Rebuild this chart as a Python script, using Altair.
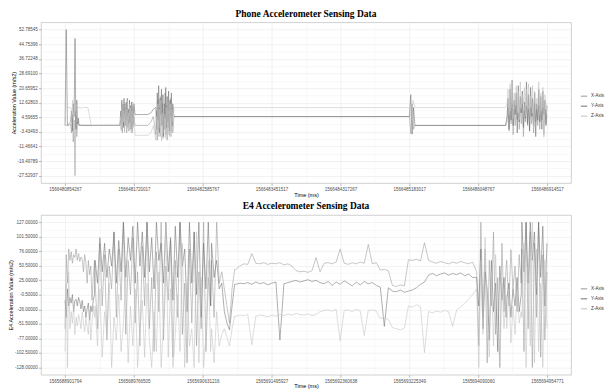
import altair as alt
import pandas as pd

AXES = ["X-Axis", "Y-Axis", "Z-Axis"]
COLORS = ["#999999", "#6e6e6e", "#c0c0c0"]

# ---- tick labels ----
PHONE_X_TICKS = [1566480854267, 1566481720017, 1566482585767, 1566483451517,
                 1566484317267, 1566485183017, 1566486048767, 1566486914517]
PHONE_Y_TICKS = [-27.52937, -19.49789, -11.46641, -3.43493, 4.59655, 12.62803,
                 20.65952, 28.69100, 36.72248, 44.75396, 52.78545]
E4_X_TICKS = [1565688901794, 1565689766505, 1565690631216, 1565691495927,
              1565692360638, 1565693225349, 1565694090060, 1565694954771]
E4_Y_TICKS = [-128.0, -102.5, -77.0, -51.5, -26.0, -0.5, 25.0, 50.5, 76.0, 101.5, 127.0]

# ---- phone series: (start s, end s, samples) ----
PHONE_X = [
    (0, 60, [0.2, 0.1, 0.3]),
    (70, 170, [1, -4, 6, -9, 3, -27.52937, 8, -6, 2, 0.5]),
    (175, 690, [0.2, 0.1, 0.2, 0.1]),
    (700, 866, [3, -2, 9, -4, 11, 0, 7, -3, 12, 1, 8, -4, 10, -1, 6, -3, 12, 2, 9, -2, 7, -4, 11, 0, 5]),
    (880, 1041, [0.1, 0.1]),
    (1080, 1110, [2, 5]),
    (1142, 1355, [-5, 8, -8, 14, -3, 10, -6, 16, 0, 12, -7, 9, -2, 18, -5, 11, -8, 13, -1, 7, -6, 15, -3, 10, -4]),
    (1370, 4320, [5.0, 5.0]),
    (4330, 4400, [5, -4.5, 12, -2, 0.1]),
    (4420, 5540, [0.1, 0.1]),
    (5558, 6060.25, [2, 10, -3, 8, 1, 12, -5, 9, 0, 11, 3, 7, -2, 10, 1, 12, -6, 8, 2, 11,
                     0, 9, -3, 10, 1, 7, -4, 12, 2, 9, 0, 11, -2, 8, 3, 10, -5, 9, 1, 6]),
]
PHONE_Y = [
    (0, 30, [0.1, 52.78545, 0.1]),
    (70, 170, [2, 8, -3, 12, 5, 47.9, -2, 14, 1, 4]),
    (175, 690, [0.2, 0.1, 0.2]),
    (700, 866, [8, 2, 14, 4, 12, -1, 15, 6, 10, 0, 13, 3, 15, 5, 9, 1, 14, 2, 11, -2, 13, 4, 10, 1, 12]),
    (880, 1041, [6.1, 6.1]),
    (1080, 1110, [7, 9]),
    (1142, 1355, [10, -2, 18, 3, 22, -4, 15, 6, 20, 0, 17, -6, 12, 4, 21, -1, 16, 2, 19, -3, 14, 5, 18, 0, 12]),
    (1370, 4320, [5.0, 5.0]),
    (4330, 4400, [5, 17, -4.7, 10, 0.1]),
    (4420, 5540, [0.1, 0.1]),
    (5558, 6060.25, [5, 15, -2, 20, 3, 25, 0, 14, 6, 18, -4, 22, 2, 16, 7, 19, -1, 13, 4, 24,
                     1, 17, -3, 21, 5, 15, 0, 18, -6, 12, 3, 20, 2, 16, -2, 19, 6, 14, 0, 11]),
]
PHONE_Z = [
    (0, 70, [9.9, 9.9]),
    (75, 170, [9.9, 4, 14, 2, 16, 9, 12, 5, 9.9, 10]),
    (175, 289, [9.9, 9.6, 10.1, 9.8]),
    (330, 690, [0.2, 0.2]),
    (700, 866, [5, -3, 10, -1, 13, 2, 8, -4, 11, 0, 9, -2, 14, 3, 7, -3, 12, 1, 10, -4, 8, 2, 13, -1, 6]),
    (880, 1041, [-5.3, -5.3]),
    (1080, 1110, [-4, 0]),
    (1142, 1355, [-8, 5, -3, 12, -6, 9, -1, 14, -8.5, 7, -4, 11, -2, 6, -7, 10, 0, 13, -5, 8, -3, 12, -6, 9, 2]),
    (1370, 4320, [9.9, 9.9]),
    (4330, 4400, [9.9, 3, 14, 9.9]),
    (4492, 5540, [9.9, 9.9]),
    (5558, 6060.25, [12, 20, 6, 23, 10, 25, 4, 18, 11, 22, 8, 19, 3, 24, 9, 17, 12, 21, 5, 20,
                     10, 23, 7, 16, 13, 22, -2, 19, 8, 15, 11, 24, 6, 18, 9, 21, -6.4, 17, 12, 10]),
]

# ---- E4 series: (start s, end s, samples) ----
E4_X = [
    (0, 370, [-60, 70, 20, 80, 60, 75, 55, 70, 65, 80, 60, 72, 58, 66, 62, 40, 70, 55, 20, 60, 35, 50, -10, 30, 60]),
    (378, 1829, [20, -60, 90, -20, 70, -80, 50, 10, 110, -40, 80, -10, 127, -70, 60, 0, 100, -50, 40, -90,
                 85, -20, 127, -60, 30, -100, 75, -30, 127, -80, 50, -10, 95, -110, 60, -40, 127, -70, 20, -120,
                 80, -50, 110, -90, 40, -60, 127, -100, 30, -20]),
    (1840, 2130, [60, -40, 127, 20, 40, 10, -20, -50, 10, 44]),
    (2144, 5120, [44, 50, 54, 53, 72, 55, 54, 56, 53, 55, 54, 56, 52, 54, 50, 42, 40, 41, 39, 42,
                  65, 40, 55, 56, 54, 57, 80, 55, 53, 56, 54, 57, 55, 88, 54, 56, 43, 44, 42, 16,
                  14, 17, 15, 61, 60, 62, 59, 91, 60, 57, 55, 58, 56, 54, 57, 55, 58, 56, 54, 57]),
    (5170, 5540, [40, -90, 127, -40, 80, -120, 60, -20, 110, -70, 30, -128, 90, -30, 50]),
    (5548, 5730, [60, -20, 79, 10, 50, -30, 70, 20]),
    (5738, 6052.977, [80, -100, 127, -60, 110, -128, 90, -40, 127, -110, 70, -80, 40]),
]
E4_Y = [
    (0, 370, [-10, -40, 10, -20, -5, -15, 0, -30, -10, -8, -20, -5, -12, -25, -10, -30, -20, -40, -25, -15, -45, -20, -30, -10, 0]),
    (378, 1829, [60, 20, 100, 40, 90, 30, 80, 50, 110, 20, 95, 40, 127, 30, 100, 60, 120, 20, 127, 50,
                 110, 30, 127, 40, 100, 10, 127, 60, 90, 20, 127, 40, 100, -10, 120, 30, 127, 50, 80, -30,
                 127, 20, 110, 0, 127, -40, 90, 10, 127, -20]),
    (1840, 2130, [90, 30, 60, 10, 20, -30, -50, -62, -20, 18]),
    (2144, 5120, [18, 20, 19, 21, 18, 22, 19, 21, 17, 20, 22, -80, 19, 21, 23, 25, 22, 24, 26, 23,
                  25, 21, 19, 23, 16, 22, 18, 24, 20, 15, 22, 17, 23, 19, 21, 16, 13, -56, 12, 6,
                  5, 8, 4, 6, 8, 12, 18, 22, 34, 37, 33, 36, 38, 34, 37, 35, 38, 33, 36, 30]),
    (5170, 5540, [30, -20, 80, -60, 40, 10, -80, 60, -30, 20, -100, 50, -10, 30, -40]),
    (5548, 5730, [-10, 20, -40, 10, -20, 30, -30, 0]),
    (5738, 6052.977, [127, 40, 127, 20, 127, 60, 110, 0, 127, 30, 120, -20, 90]),
]
E4_Z = [
    (0, 370, [-100, 20, -128, 40, -60, -30, -50, -20, -70, -40, -55, -35, -45, -60, -30, -50, -65, -40, -56, -70, -30, -80, -50, -20, -40]),
    (378, 1829, [-20, -90, 10, -110, -30, -70, 20, -128, -40, -80, 0, -100, -50, 30, -120, -20, -90, 10, -128, -60,
                 -10, -110, 20, -80, -128, -30, -100, 40, -128, -50, 127, -110, 10, -128, -70, 0, -100, 90, -128, 20,
                 -90, -60, -128, 110, -120, 30, -128, -70, 60, -100]),
    (1840, 2130, [-60, -120, -30, -90, -70, -60, -75, -90, -60, -38]),
    (2144, 5120, [-38, -36, -37, -35, -88, -38, -36, -37, -39, -36, -38, -35, -37, -34, -36, -33, -35, -36, -34, -37,
                  -35, -30, -28, -27, -29, -26, -81, -28, -27, -30, -26, -29, -72, -28, -27, -29, -42, -41, -44, -58,
                  -60, -62, -59, -20, -22, -18, -21, -102, -30, -32, -29, -31, -28, -30, -56, -27, -22, -15, -8, 0]),
    (5170, 5540, [10, -128, 60, -70, 100, -30, -110, 40, -90, 70, -50, -128, 20, -60, 0]),
    (5548, 5730, [-60, 10, -85, -20, -70, 5, -50, -30]),
    (5738, 6052.977, [-40, 90, -128, 50, -90, 127, -120, 80, -100, 20, -128, 60, -60]),
]


def build(series, t0):
    rows = []
    for axis, segs in zip(AXES, series):
        for a, b, vals in segs:
            n = len(vals)
            for i, v in enumerate(vals):
                t = a if n == 1 else a + (b - a) * i / (n - 1)
                rows.append({"time": t0 + t * 1000.0, "value": v, "axis": axis})
    return pd.DataFrame(rows)


def with_minors(ticks):
    mids = [(ticks[i] + ticks[i + 1]) / 2 for i in range(len(ticks) - 1)]
    return sorted(list(ticks) + mids)


def major_test(ticks):
    return "indexof([" + ",".join(repr(t) for t in ticks) + "], datum.value) >= 0"


def expanded(ticks):
    r = ticks[-1] - ticks[0]
    return [ticks[0] - 0.05 * r, ticks[-1] + 0.05 * r]


def panel(df, xt, yt, title, ytitle, height):
    xtest = major_test(xt)
    ytest = major_test(yt)
    xaxis = alt.Axis(
        values=with_minors(xt),
        labelExpr=f"({xtest}) ? format(datum.value, 'd') : ''",
        gridColor={"condition": {"test": xtest, "value": "#e4e4e4"}, "value": "#f1f1f1"},
        tickOpacity={"condition": {"test": xtest, "value": 1}, "value": 0},
        title="Time (ms)",
        labelFlush=False,
    )
    yaxis = alt.Axis(
        values=with_minors(yt),
        labelExpr=f"({ytest}) ? replace(format(datum.value, '.5f'), '\u2212', '-') : ''",
        gridColor={"condition": {"test": ytest, "value": "#e4e4e4"}, "value": "#f1f1f1"},
        tickOpacity={"condition": {"test": ytest, "value": 1}, "value": 0},
        title=ytitle,
    )
    return alt.Chart(df).mark_line(strokeWidth=0.55).encode(
        x=alt.X("time:Q", scale=alt.Scale(domain=expanded(xt), nice=False, zero=False), axis=xaxis),
        y=alt.Y("value:Q", scale=alt.Scale(domain=expanded(yt), nice=False, zero=False), axis=yaxis),
        color=alt.Color(
            "axis:N",
            scale=alt.Scale(domain=AXES, range=COLORS),
            legend=alt.Legend(
                title=None, orient="none", legendX=540, legendY=70,
                symbolType="stroke", symbolSize=40, symbolStrokeWidth=1,
                labelFontSize=4.5, labelFont="Liberation Sans", labelColor="#333333",
                rowPadding=4, labelOffset=3, padding=0,
            ),
        ),
    ).properties(width=531, height=height, title=title)


phone_df = build([PHONE_X, PHONE_Y, PHONE_Z], PHONE_X_TICKS[0])
e4_df = build([E4_X, E4_Y, E4_Z], E4_X_TICKS[0])

phone = panel(phone_df, PHONE_X_TICKS, PHONE_Y_TICKS,
              "Phone Accelerometer Sensing Data", "Acceleration Value (m/s2)", 161)
e4 = panel(e4_df, E4_X_TICKS, E4_Y_TICKS,
           "E4 Accelerometer Sensing Data", "E4 Acceleration Value (m/s2)", 160)

chart = (
    alt.vconcat(phone, e4, spacing=2)
    .resolve_scale(x="independent", y="independent")
    .resolve_legend(color="independent")
    .properties(padding=0)
    .configure_view(stroke="#c4c4c4", strokeWidth=0.8)
    .configure_axis(
        domain=False, labelFont="Liberation Sans", labelFontSize=4.5, labelColor="#4d4d4d",
        titleFont="Liberation Sans", titleFontSize=5.5, titleFontWeight="normal", titleColor="#000000",
        tickColor="#8a8a8a", tickSize=2.5, tickWidth=0.6, labelPadding=1.2, titlePadding=1.0,
        gridWidth=0.5,
    )
    .configure_title(font="Liberation Serif", fontSize=9.5, fontWeight="bold",
                     anchor="middle", offset=4, color="#000000")
)

chart.save("out.html", embed_options={"renderer": "svg", "actions": False})
